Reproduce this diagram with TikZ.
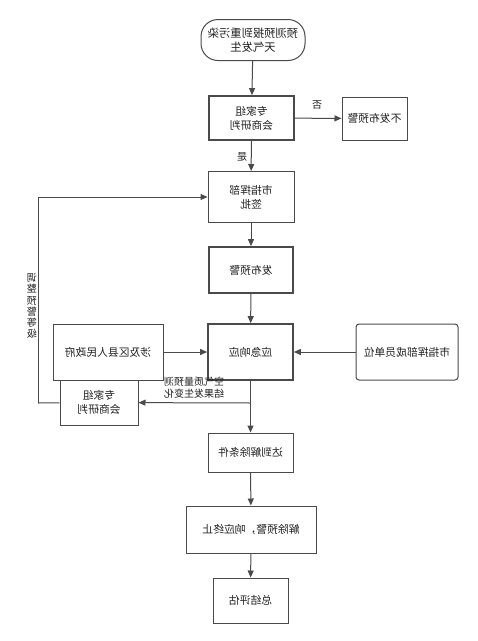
\documentclass[tikz,border=0pt]{standalone}
\usepackage{fontspec}
\setmainfont{Noto Sans CJK SC}
\usetikzlibrary{arrows.meta}
\definecolor{ln}{HTML}{4A4A4A}
\definecolor{tx}{HTML}{222222}
\tikzset{
  mir/.style={xscale=-1},
  box/.style={mir, draw=ln, line width=1pt, align=center, text=tx, font=\fontsize{10.8}{14}\selectfont, inner sep=0pt},
  thickbox/.style={box, line width=1.7pt},
  arr/.style={draw=ln, line width=1pt, -{Triangle[length=7pt,width=6pt]}},
  lnk/.style={draw=ln, line width=1pt},
  lbl/.style={mir, text=tx, align=center, inner sep=0pt, font=\fontsize{10}{11.5}\selectfont}
}
\begin{document}
\begin{tikzpicture}[x=1pt,y=-1pt]
\useasboundingbox[fill=white] (0,0) rectangle (478,641);
% nodes
\node[box, rounded corners=17pt, minimum width=104pt, minimum height=41pt, font=\fontsize{11.3}{14.5}\selectfont] (start) at (253,40) {预测预报到重污染\\天气发生};
\node[thickbox, minimum width=85pt, minimum height=44pt] (exp1) at (251.5,118) {专家组\\会商研判};
\node[box, minimum width=65pt, minimum height=43pt] (nopub) at (374.5,118.5) {不发布预警};
\node[box, minimum width=86pt, minimum height=51pt] (sign) at (251,197) {市指挥部\\签批};
\node[thickbox, minimum width=84pt, minimum height=46pt] (pub) at (251,270) {发布预警};
\node[thickbox, minimum width=85pt, minimum height=56pt] (resp) at (250.5,352) {应急响应};
\node[box, minimum width=110pt, minimum height=56pt] (gov) at (108,352) {涉及区县人民政府};
\node[box, rounded corners=3pt, minimum width=102pt, minimum height=56pt] (units) at (407,352) {市指挥部成员单位};
\node[box, minimum width=78pt, minimum height=45pt] (exp2) at (99,402.5) {专家组\\会商研判};
\node[box, minimum width=85pt, minimum height=39pt] (cond) at (250.5,452.5) {达到解除条件};
\node[box, minimum width=130pt, minimum height=47pt] (stop) at (251,529.5) {解除预警，响应终止};
\node[box, minimum width=75pt, minimum height=45pt] (eval) at (250.5,600.5) {总结评估};
% labels
\node[lbl] (no) at (317,105) {否};
\node[lbl] (yes) at (242,157) {是};
\node[lbl] (chg) at (194,387.5) {空气质量预测\\结果发生变化};
\node[lbl, font=\fontsize{10}{11.2}\selectfont] (adj) at (32,306) {调\\整\\预\\警\\等\\级};
% connectors
\coordinate (br) at (251,403);
\coordinate (lp) at (38,403);
\draw[arr] (start) -- (exp1);
\draw[arr] (exp1) -- (nopub);
\draw[arr] (exp1) -- (sign);
\draw[arr] (sign) -- (pub);
\draw[arr] (pub) -- (resp);
\draw[arr] (gov) -- (resp);
\draw[arr] (units) -- (resp);
\draw[arr] (resp) -- (cond);
\draw[arr] (br) -- (exp2);
\draw[lnk] (exp2) -- (lp);
\draw[arr] (lp) |- (sign);
\draw[arr] (cond) -- (stop);
\draw[arr] (stop) -- (eval);
\end{tikzpicture}
\end{document}
